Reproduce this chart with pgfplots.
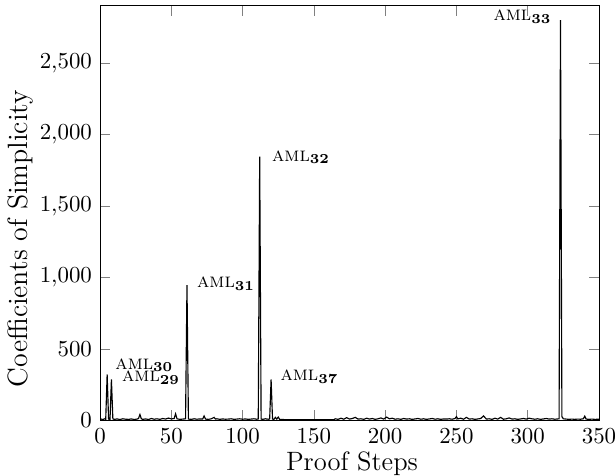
\documentclass[border=0pt]{standalone}
\usepackage{pgfplots}
\pgfplotsset{compat=1.18}

\newcommand{\aml}[1]{\fontsize{8.8}{10}\selectfont\textsc{aml}$_{\mathbf{#1}}$}

\begin{document}
\begin{tikzpicture}
\begin{axis}[
    scale only axis,
    width=218pt, height=181pt,
    xmin=0, xmax=350,
    ymin=0, ymax=2900,
    xtick={0,50,...,350},
    ytick={0,500,...,2500},
    xlabel={Proof Steps},
    ylabel={Coefficients of Simplicity},
    xlabel style={font=\fontsize{11.6}{13}\selectfont, at={(axis description cs:0.505,-0.104)}, anchor=center},
    ylabel style={font=\fontsize{12.2}{14}\selectfont, at={(axis description cs:-0.160,0.4386)}, anchor=center},
    ]
\addplot [black, line width=0.5pt, mark=none] coordinates {
(0,5) (1,8) (2,4) (3,10) (4,6) (5,320) (6,8) (7,5) (8,285) (9,10) (10,6)
(12,9) (14,5) (16,10) (18,7) (20,6) (22,9) (24,5) (26,8) (27,12) (28,40)
(29,10) (30,6) (32,9) (34,5) (36,12) (38,7) (40,10) (42,6) (44,12) (46,8)
(48,15) (50,9) (52,12) (53,45) (54,10) (56,6) (58,8) (60,10) (61,945) (62,8)
(64,6) (66,10) (68,7) (70,9) (72,8) (73,30) (74,8) (76,6) (78,10) (80,20)
(81,8) (82,10) (84,6) (86,9) (88,7) (90,8) (92,10) (94,6) (96,8) (98,10)
(100,7) (102,9) (104,6) (106,8) (108,10) (110,7) (111,9) (112,1845) (113,8)
(114,6) (116,10) (118,7) (119,9) (120,285) (121,8) (122,6) (123,20) (124,8)
(125,22) (126,6) (128,5) (130,4) (135,3) (140,3) (145,3) (150,3) (155,3)
(160,3) (164,4) (165,10) (167,6) (169,14) (171,7) (173,18) (175,8) (177,12)
(179,20) (181,8) (183,10) (185,6) (187,14) (189,8) (191,12) (193,6) (195,10)
(197,16) (199,8) (201,22) (203,10) (205,14) (207,7) (209,10) (211,6) (213,12)
(215,8) (217,10) (219,6) (221,9) (223,12) (225,7) (227,10) (229,6) (231,9)
(233,12) (235,7) (237,10) (239,6) (241,9) (243,8) (245,10) (247,7) (249,12)
(250,25) (251,9) (253,14) (255,7) (257,20) (259,8) (261,10) (263,6) (265,9)
(267,12) (269,30) (271,8) (273,10) (275,6) (277,14) (279,8) (281,20) (283,7)
(285,10) (287,16) (289,8) (291,10) (293,6) (295,9) (297,12) (299,8) (301,14)
(303,10) (305,7) (307,10) (309,6) (311,9) (313,12) (315,8) (317,10) (319,7)
(321,9) (322,10) (323,2800) (324,25) (325,10) (327,8) (329,6) (331,8) (333,6)
(335,8) (337,7) (339,10) (340,28) (341,8) (343,6) (345,8) (347,6) (350,7)
};
\node[anchor=base west, inner sep=0pt] at (axis cs:10.5,358) {\aml{30}};
\node[anchor=base west, inner sep=0pt] at (axis cs:15.2,268) {\aml{29}};
\node[anchor=base west, inner sep=0pt] at (axis cs:67.8,927) {\aml{31}};
\node[anchor=base west, inner sep=0pt] at (axis cs:120.4,1813) {\aml{32}};
\node[anchor=base west, inner sep=0pt] at (axis cs:126.3,275) {\aml{37}};
\node[anchor=base east, inner sep=0pt] at (axis cs:317,2795) {\aml{33}};
\end{axis}
\pgfresetboundingbox
\path ([shift={(-43.7pt,-24pt)}]current axis.south west)
  rectangle ([shift={(7pt,2.6pt)}]current axis.north east);
\end{tikzpicture}
\end{document}
